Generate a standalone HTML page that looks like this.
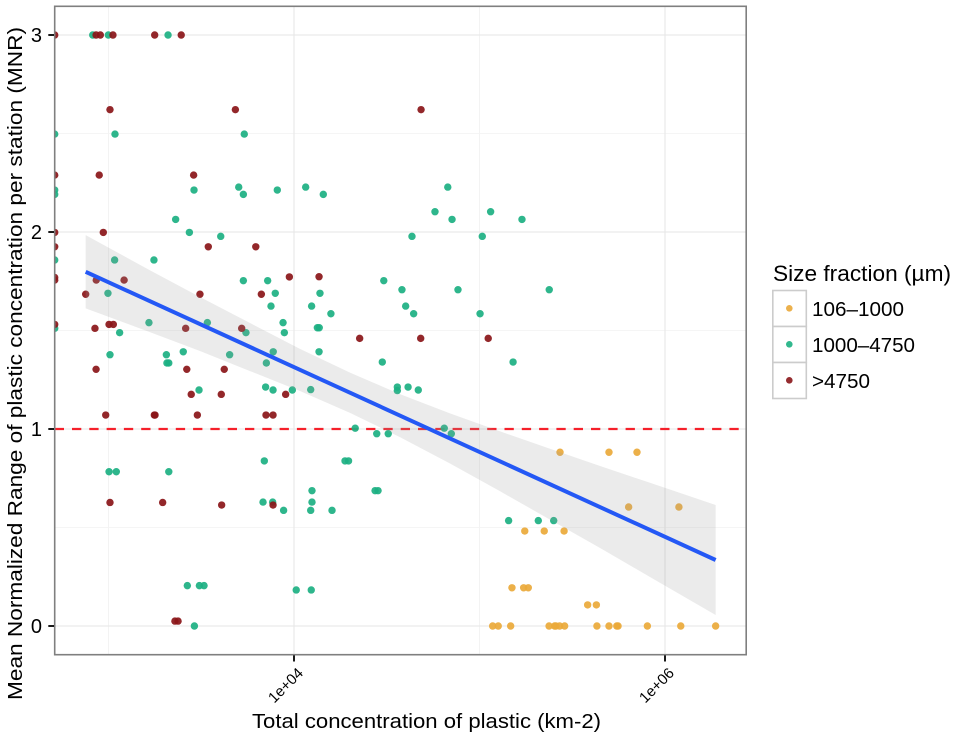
<!DOCTYPE html>
<html lang="en">
<head>
<meta charset="utf-8">
<title>Mean Normalized Range of plastic concentration</title>
<style>
html,body{margin:0;padding:0;background:#fff;}
body{width:957px;height:738px;overflow:hidden;}
svg{display:block;font-family:"Liberation Sans",sans-serif;}
</style>
</head>
<body>
<svg id="chart" width="957" height="738" viewBox="0 0 957 738" xmlns="http://www.w3.org/2000/svg">
  <defs>
    <clipPath id="panel-clip"><rect x="54.7" y="6.3" width="691.5" height="648.4"/></clipPath>
  </defs>
  <rect x="0" y="0" width="957" height="738" fill="#ffffff"/>
  <g id="grid"></g>
  <g id="refline" clip-path="url(#panel-clip)"></g>
  <g id="points" clip-path="url(#panel-clip)"></g>
  <g id="fit" clip-path="url(#panel-clip)"></g>
  <rect x="54.7" y="6.3" width="691.5" height="648.4" fill="none" stroke="#7f7f7f" stroke-width="1.6"/>
  <g id="axes"></g>
  <text x="252" y="728" font-size="20.5" fill="#000" textLength="349" lengthAdjust="spacingAndGlyphs">Total concentration of plastic (km-2)</text>
  <text transform="translate(22,700) rotate(-90)" x="0" y="0" font-size="20.5" fill="#000" textLength="673" lengthAdjust="spacingAndGlyphs">Mean Normalized Range of plastic concentration per station (MNR)</text>
  <g id="legend">
    <text x="773" y="281" font-size="22" fill="#000" textLength="178" lengthAdjust="spacingAndGlyphs">Size fraction (µm)</text>
    <g>
      <rect x="772.8" y="290.5" width="33.5" height="36" fill="#fff" stroke="#cccccc" stroke-width="1.6"/>
      <circle cx="789.3" cy="308.3" r="3.3" fill="#eaa93a" fill-opacity="0.9"/>
      <text x="812" y="316" font-size="20.5" fill="#000" textLength="92" lengthAdjust="spacingAndGlyphs">106–1000</text>
    </g>
    <g>
      <rect x="772.8" y="326.5" width="33.5" height="36" fill="#fff" stroke="#cccccc" stroke-width="1.6"/>
      <circle cx="789.3" cy="344.3" r="3.3" fill="#1cb082" fill-opacity="0.9"/>
      <text x="812" y="352" font-size="20.5" fill="#000" textLength="103" lengthAdjust="spacingAndGlyphs">1000–4750</text>
    </g>
    <g>
      <rect x="772.8" y="362.5" width="33.5" height="36" fill="#fff" stroke="#cccccc" stroke-width="1.6"/>
      <circle cx="789.3" cy="380.3" r="3.3" fill="#8a1518" fill-opacity="0.9"/>
      <text x="812" y="388" font-size="20.5" fill="#000" textLength="58" lengthAdjust="spacingAndGlyphs">&gt;4750</text>
    </g>
  </g>
</svg>
<script>
const yTickValues = [0, 1, 2, 3];
const yTickLabels = ["0", "1", "2", "3"];
const yMinorValues = [0.5, 1.5, 2.5];
const xTickValues = [4, 6];
const xTickLabels = ["1e+04", "1e+06"];
const xMinorValues = [3, 5];
const referenceMNR = [1];

const orangeLogConc = [
  5.434, 5.698, 5.849,
  5.804, 6.075,
  5.244, 5.349, 5.456,
  5.175, 5.238, 5.263,
  5.583, 5.630,
  5.071, 5.101, 5.168, 5.375, 5.405, 5.412, 5.432, 5.459, 5.633, 5.698, 5.740, 5.747, 5.905, 6.085, 6.273
];
const orangeMNR = [
  0.882, 0.882, 0.882,
  0.604, 0.604,
  0.482, 0.482, 0.482,
  0.194, 0.194, 0.194,
  0.107, 0.107,
  0, 0, 0, 0, 0, 0, 0, 0, 0, 0, 0, 0, 0, 0, 0
];

const greenLogConc = [
  2.915, 2.999, 3.321,
  2.710, 3.035, 3.732,
  2.710, 3.461, 3.910,
  2.710, 3.727, 4.158,
  3.702, 4.063, 4.829,
  3.362, 4.852, 5.229,
  4.760, 5.060,
  3.436,
  3.605, 4.636, 5.015,
  2.710, 3.033, 3.245,
  3.727, 3.858, 4.484,
  4.582, 4.884, 5.376,
  2.997, 3.899, 4.140,
  3.876, 4.095, 4.602,
  4.199, 4.645, 5.003,
  3.218, 3.533, 3.941,
  4.126, 4.136,
  2.710,
  3.060, 3.741, 3.948,
  3.403, 3.888, 4.135,
  3.008, 3.312, 3.653,
  4.476, 5.181,
  3.315, 3.325, 3.851,
  3.847, 4.557, 4.615,
  3.488, 3.887, 3.991, 4.090, 4.557, 4.670,
  4.330, 4.810,
  4.446, 4.508, 4.848,
  3.840, 4.275, 4.294,
  3.003, 3.042, 3.325,
  4.097, 4.437, 4.453,
  3.833, 3.885, 4.097,
  3.944, 4.090, 4.205,
  5.157, 5.317, 5.400,
  3.425, 3.490, 3.515,
  4.012, 4.093,
  3.463
];
const greenMNR = [
  3, 3, 3,
  2.497, 2.497, 2.497,
  2.213, 2.213, 2.213,
  2.191, 2.191, 2.191,
  2.228, 2.228, 2.228,
  2.064, 2.064, 2.064,
  2.103, 2.103,
  1.998,
  1.978, 1.978, 1.978,
  1.858, 1.858, 1.858,
  1.753, 1.753, 1.753,
  1.707, 1.707, 1.707,
  1.689, 1.689, 1.689,
  1.624, 1.624, 1.624,
  1.585, 1.585, 1.585,
  1.540, 1.540, 1.540,
  1.514, 1.514,
  1.511,
  1.489, 1.489, 1.489,
  1.392, 1.392, 1.392,
  1.377, 1.377, 1.377,
  1.340, 1.340,
  1.335, 1.335, 1.335,
  1.213, 1.213, 1.213,
  1.198, 1.198, 1.198, 1.200, 1.195, 1.198,
  1.004, 1.004,
  0.976, 0.976, 0.976,
  0.838, 0.838, 0.838,
  0.783, 0.783, 0.783,
  0.687, 0.687, 0.687,
  0.629, 0.629, 0.629,
  0.587, 0.587, 0.587,
  0.535, 0.535, 0.535,
  0.205, 0.205, 0.205,
  0.183, 0.183,
  0
];

const maroonLogConc = [
  2.710, 2.933, 2.956, 3.024, 3.249, 3.392,
  3.008, 3.684, 4.685,
  2.710, 2.950, 3.459,
  2.710, 2.972,
  2.710, 3.538, 3.794,
  2.710, 3.975, 4.135,
  2.710, 2.934, 3.084,
  2.877, 3.493, 3.824,
  2.710, 3.003, 3.026,
  2.927, 3.416, 3.718,
  4.354, 4.683, 5.047,
  2.933, 3.422, 3.624,
  3.446, 3.608, 3.955,
  2.985, 3.247, 3.251, 3.479, 3.849, 3.887,
  3.008, 3.292,
  3.610, 3.887,
  3.358, 3.375
];
const maroonMNR = [
  3, 3, 3, 3, 3, 3,
  2.621, 2.621, 2.621,
  2.289, 2.289, 2.289,
  1.998, 1.998,
  1.925, 1.925, 1.925,
  1.769, 1.772, 1.773,
  1.756, 1.756, 1.756,
  1.684, 1.684, 1.684,
  1.531, 1.531, 1.531,
  1.511, 1.511, 1.511,
  1.460, 1.460, 1.460,
  1.303, 1.303, 1.303,
  1.176, 1.176, 1.176,
  1.071, 1.071, 1.071, 1.071, 1.071, 1.071,
  0.627, 0.627,
  0.614, 0.614,
  0.025, 0.025
];

const fitLogConc = [2.877, 6.273];
const fitMNR = [1.798, 0.335];
const bandLogConc = [2.877, 3.223, 3.493, 3.763, 4.032, 4.302, 4.571, 4.841, 5.111, 5.380, 5.650, 5.919, 6.273];
const bandUpperMNR = [1.984, 1.806, 1.670, 1.538, 1.407, 1.286, 1.177, 1.079, 0.988, 0.900, 0.812, 0.727, 0.614];
const bandLowerMNR = [1.612, 1.492, 1.396, 1.294, 1.193, 1.082, 0.959, 0.825, 0.684, 0.540, 0.396, 0.249, 0.056];

const SVGNS = "http://www.w3.org/2000/svg";
function xScale(v) { return 294 + (v - 4) * 185.5; }
function yScale(v) { return 626 - v * 197; }
function make(tag, parent, attrs) {
  const el = document.createElementNS(SVGNS, tag);
  for (const k in attrs) el.setAttribute(k, attrs[k]);
  parent.appendChild(el);
  return el;
}
const PANEL = { left: 54.7, right: 746.2, top: 6.3, bottom: 654.7 };
const POINT_R = 3.7;
const gridG = document.getElementById("grid");
const refG = document.getElementById("refline");
const pointsG = document.getElementById("points");
const fitG = document.getElementById("fit");
const axesG = document.getElementById("axes");

yMinorValues.forEach(function (v) {
  const el = make("line", gridG, { x1: PANEL.left, x2: PANEL.right, y1: yScale(v), y2: yScale(v), stroke: "#f5f5f5", "stroke-width": 1 });
  
  
});
xMinorValues.forEach(function (v) {
  const el = make("line", gridG, { x1: xScale(v), x2: xScale(v), y1: PANEL.top, y2: PANEL.bottom, stroke: "#f3f3f3", "stroke-width": 1 });
  
  
});
yTickValues.forEach(function (v) {
  const el = make("line", gridG, { x1: PANEL.left, x2: PANEL.right, y1: yScale(v), y2: yScale(v), stroke: "#e9e9e9", "stroke-width": 1.2 });
  
  
});
xTickValues.forEach(function (v) {
  const el = make("line", gridG, { x1: xScale(v), x2: xScale(v), y1: PANEL.top, y2: PANEL.bottom, stroke: "#e9e9e9", "stroke-width": 1.2 });
  
  
});

referenceMNR.forEach(function (v) {
  const el = make("line", refG, { x1: PANEL.left, x2: PANEL.right, y1: yScale(v), y2: yScale(v), stroke: "#f5202a", "stroke-width": 2.3, "stroke-dasharray": "9.3 8" });
  
  
});

function drawOrange() {
  orangeLogConc.forEach(function (x, i) {
    const el = make("circle", pointsG, { cx: xScale(x), cy: yScale(orangeMNR[i]), r: POINT_R, fill: "#eaa93a", "fill-opacity": 0.92 });
    
    
  });
}
function drawGreen() {
  greenLogConc.forEach(function (x, i) {
    const el = make("circle", pointsG, { cx: xScale(x), cy: yScale(greenMNR[i]), r: POINT_R, fill: "#1cb082", "fill-opacity": 0.92 });
    
    
  });
}
function drawMaroon() {
  maroonLogConc.forEach(function (x, i) {
    const el = make("circle", pointsG, { cx: xScale(x), cy: yScale(maroonMNR[i]), r: POINT_R, fill: "#8a1518", "fill-opacity": 0.92 });
    
    
  });
}
drawOrange();
drawGreen();
drawMaroon();

const upperPts = bandLogConc.map(function (x, i) { return xScale(x) + "," + yScale(bandUpperMNR[i]); });
const lowerPts = bandLogConc.map(function (x, i) { return xScale(x) + "," + yScale(bandLowerMNR[i]); }).reverse();
const band = make("polygon", fitG, { points: upperPts.concat(lowerPts).join(" "), fill: "#999999", "fill-opacity": 0.2 });



const fitLine = make("line", fitG, { x1: xScale(fitLogConc[0]), y1: yScale(fitMNR[0]), x2: xScale(fitLogConc[1]), y2: yScale(fitMNR[1]), stroke: "#2458f5", "stroke-width": 4 });



yTickValues.forEach(function (v, i) {
  const tick = make("line", axesG, { x1: 48.3, x2: 54, y1: yScale(v), y2: yScale(v), stroke: "#000", "stroke-width": 1.8 });
  
  
  const label = make("text", axesG, { x: 42, y: yScale(v) + 7, "text-anchor": "end", "font-size": 20, fill: "#000" });
  label.textContent = yTickLabels[i];
  
  
});
xTickValues.forEach(function (v, i) {
  const tick = make("line", axesG, { x1: xScale(v), x2: xScale(v), y1: 655.4, y2: 661.5, stroke: "#000", "stroke-width": 1.8 });
  
  
  const px = xScale(v) + 10;
  const label = make("text", axesG, { x: 0, y: 0, transform: "translate(" + px + ",674) rotate(-45)", "text-anchor": "end", "font-size": 15, fill: "#000" });
  label.textContent = xTickLabels[i];
  
  
});
</script>
</body>
</html>
